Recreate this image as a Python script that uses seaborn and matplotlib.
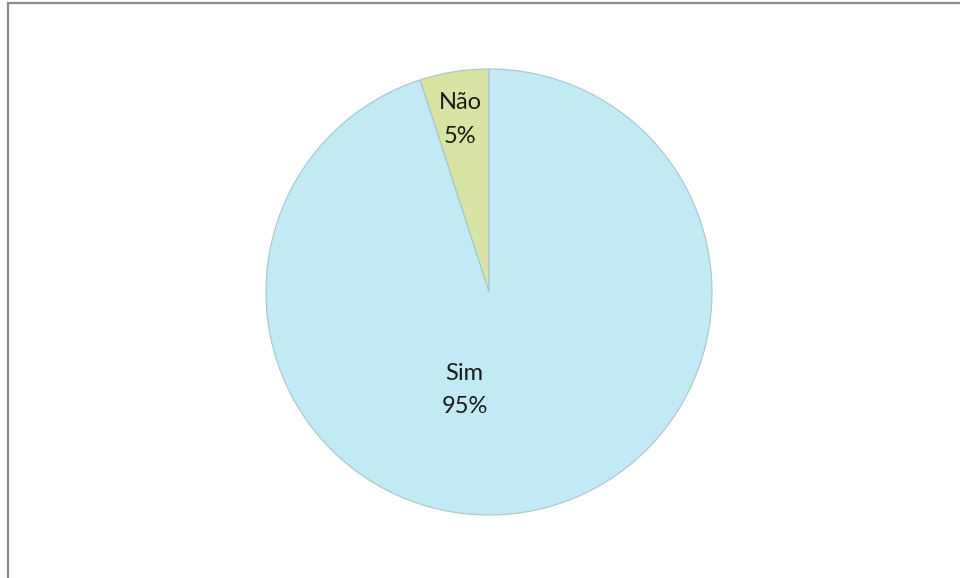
import matplotlib
matplotlib.use('Agg')
import matplotlib.pyplot as plt
from matplotlib.patches import Rectangle
import seaborn as sns
import numpy as np

sns.set_style('white')
plt.rcParams['font.family'] = ['Lato', 'DejaVu Sans']

# dados do gráfico
categorias = ['Não', 'Sim']
valores = [5, 95]
cores = ['#D7E4A3', '#C2EAF5']

fig = plt.figure(figsize=(9.6, 5.78), dpi=100)

# moldura cinza da área do gráfico
fig.add_artist(Rectangle((8 / 960, -0.05), 1.0, 1 - 3 / 578 + 0.05,
                         transform=fig.transFigure, fill=False,
                         edgecolor='#8C8C8C', linewidth=1.6))

cx, cy, r = 489, 292, 223
ax = fig.add_axes([(cx - r) / 960, (578 - cy - r) / 578, 2 * r / 960, 2 * r / 578])

wedges, _ = ax.pie(valores, colors=cores, startangle=90, counterclock=True,
                   radius=1.0, wedgeprops=dict(edgecolor='#A9C4CB', linewidth=0.8))
ax.set_xlim(-1, 1)
ax.set_ylim(-1, 1)
ax.set_aspect('equal')
ax.axis('off')

# rótulos (nome + percentual) dentro das fatias
posicoes = [(-0.13, 0.775), (-0.11, -0.44)]
total = sum(valores)
for cat, val, (x, y) in zip(categorias, valores, posicoes):
    ax.text(x, y, f'{cat}\n{val / total:.0%}', ha='center', va='center',
            fontsize=17, color='#1a1a1a', linespacing=1.75)

fig.savefig('out.png', dpi=100)
